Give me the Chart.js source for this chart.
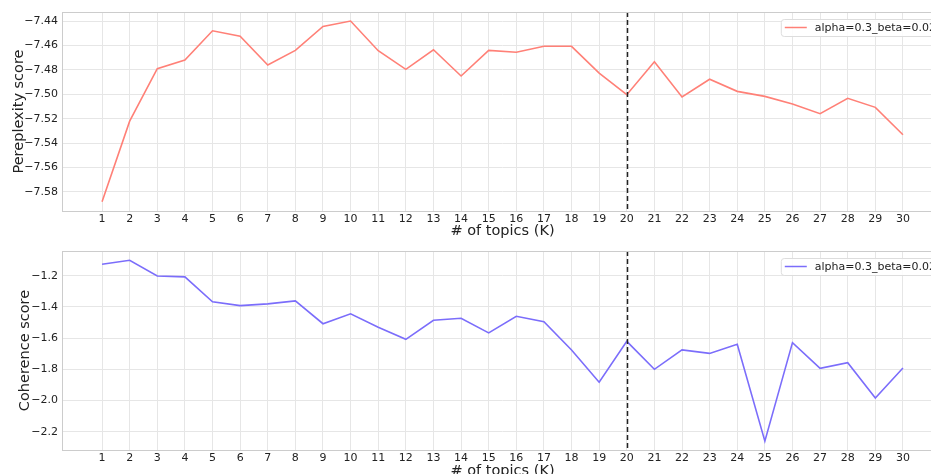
<!DOCTYPE html>
<html>
<head>
<meta charset="utf-8">
<script src="https://cdn.jsdelivr.net/npm/chart.js@4.4.0/dist/chart.umd.min.js"></script>
<style>
  html, body { margin: 0; padding: 0; background: #fff; overflow: hidden; width: 931px; height: 474px; }
  .wrap { position: absolute; left: 0; width: 960px; }
  #top { top: 0; height: 240px; }
  #bottom { top: 240px; height: 240px; }
</style>
</head>
<body>
<div class="wrap" id="top"><canvas id="perpChart"></canvas></div>
<div class="wrap" id="bottom"><canvas id="cohChart"></canvas></div>
<script>
// number of topics K
const topics = [1,2,3,4,5,6,7,8,9,10,11,12,13,14,15,16,17,18,19,20,21,22,23,24,25,26,27,28,29,30]
const seriesLabel = 'alpha=0.3_beta=0.02'
const chosenK = 20

const perplexity = [-7.588, -7.522, -7.479, -7.472, -7.448, -7.4525, -7.476, -7.464, -7.4444, -7.440,
                    -7.4643, -7.4796, -7.4635, -7.485, -7.464, -7.4656, -7.4607, -7.4607, -7.4826, -7.5003,
                    -7.4733, -7.5022, -7.4877, -7.4976, -7.5017, -7.508, -7.5159, -7.5033, -7.5107, -7.5331]
const coherence = [-1.127, -1.101, -1.202, -1.208, -1.367, -1.392, -1.381, -1.362, -1.508, -1.444,
                   -1.531, -1.608, -1.486, -1.473, -1.567, -1.460, -1.495, -1.676, -1.883, -1.621,
                   -1.800, -1.676, -1.698, -1.640, -2.260, -1.629, -1.794, -1.758, -1.984, -1.792]

const perpTicks = [-7.58, -7.56, -7.54, -7.52, -7.50, -7.48, -7.46, -7.44]
const cohTicks = [-2.2, -2.0, -1.8, -1.6, -1.4, -1.2]

const font = "'DejaVu Sans', sans-serif"

// frame, dashed K marker and boxed legend, matplotlib style
const decorations = {
    id: 'decorations',
    afterDatasetsDraw(chart){
        const ctx = chart.ctx
        const area = chart.chartArea
        const xs = chart.scales.x
        ctx.save()
        // dashed line at chosen K
        let px = Math.round(xs.getPixelForValue(chosenK)) + 0.5
        ctx.strokeStyle = '#222'
        ctx.lineWidth = 1.5
        ctx.setLineDash([5, 3])
        ctx.beginPath()
        ctx.moveTo(px, area.top)
        ctx.lineTo(px, area.bottom)
        ctx.stroke()
        ctx.setLineDash([])
        // frame
        ctx.strokeStyle = '#cccccc'
        ctx.lineWidth = 1
        ctx.strokeRect(area.left + 0.5, area.top + 0.5, area.right - area.left, area.bottom - area.top)
        // legend
        const ds = chart.data.datasets[0]
        ctx.font = '11px ' + font
        const tw = ctx.measureText(ds.label).width
        const bw = tw + 40, bh = 17
        const bx = area.right - bw - 1, by = area.top + 7
        ctx.fillStyle = 'rgba(255,255,255,0.85)'
        ctx.strokeStyle = '#dddddd'
        ctx.beginPath()
        ctx.roundRect(bx + 0.5, by + 0.5, bw, bh, 3)
        ctx.fill()
        ctx.stroke()
        ctx.strokeStyle = ds.borderColor
        ctx.lineWidth = 1.5
        ctx.beginPath()
        ctx.moveTo(bx + 4, by + bh / 2)
        ctx.lineTo(bx + 26, by + bh / 2)
        ctx.stroke()
        ctx.fillStyle = '#222'
        ctx.textBaseline = 'middle'
        ctx.fillText(ds.label, bx + 34, by + bh / 2 + 1)
        ctx.restore()
    }
}

function fmtTick(v, digits){
    return v.toFixed(digits).replace('-', '\u2212')
}

function makeChart(id, values, yTicks, yMin, yMax, digits, color, yTitle, titlePad, topPad, xHeight){
    const ctx = document.getElementById(id).getContext('2d')
    return new Chart(ctx, {
        type: 'line',
        data: {
            datasets: [{
                label: seriesLabel,
                data: topics.map((k, i) => ({x: k, y: values[i]})),
                borderColor: color,
                borderWidth: 1.6,
                pointRadius: 0,
                tension: 0,
                fill: false,
            }]
        },
        options: {
            responsive: true,
            maintainAspectRatio: false,
            animation: false,
            layout: { padding: { top: topPad, left: 0, right: 17, bottom: 0 } },
            plugins: { legend: { display: false }, tooltip: { enabled: false } },
            scales: {
                x: {
                    type: 'linear',
                    min: -0.45,
                    max: 31.45,
                    afterBuildTicks: (scale) => { scale.ticks = topics.map(v => ({value: v})) },
                    afterFit: (scale) => { scale.height = xHeight },
                    grid: { color: '#e6e6e6', drawTicks: false },
                    border: { display: false },
                    ticks: { color: '#222', font: { family: font, size: 11 }, padding: 2, autoSkip: false, maxRotation: 0 },
                    title: { display: true, text: '# of topics (K)', color: '#222', font: { family: font, size: 14.5 }, padding: { top: 0, bottom: 0 } }
                },
                y: {
                    min: yMin,
                    max: yMax,
                    afterBuildTicks: (scale) => { scale.ticks = yTicks.map(v => ({value: v})) },
                    afterFit: (scale) => { scale.width = 62 },
                    grid: { color: '#e6e6e6', drawTicks: false },
                    border: { display: false },
                    ticks: { color: '#222', font: { family: font, size: 11 }, padding: 4, callback: (v) => fmtTick(v, digits) },
                    title: { display: true, text: yTitle, color: '#222', font: { family: font, size: 14.5 }, padding: { top: titlePad, bottom: 0 } }
                }
            }
        },
        plugins: [decorations]
    })
}

makeChart('perpChart', perplexity, perpTicks, -7.5956, -7.4326, 2, '#ff8077', 'Pereplexity score', 11, 12, 29)
makeChart('cohChart', coherence, cohTicks, -2.317, -1.042, 1, '#7b6dfb', 'Coherence score', 17, 11, 30)
</script>
</body>
</html>
